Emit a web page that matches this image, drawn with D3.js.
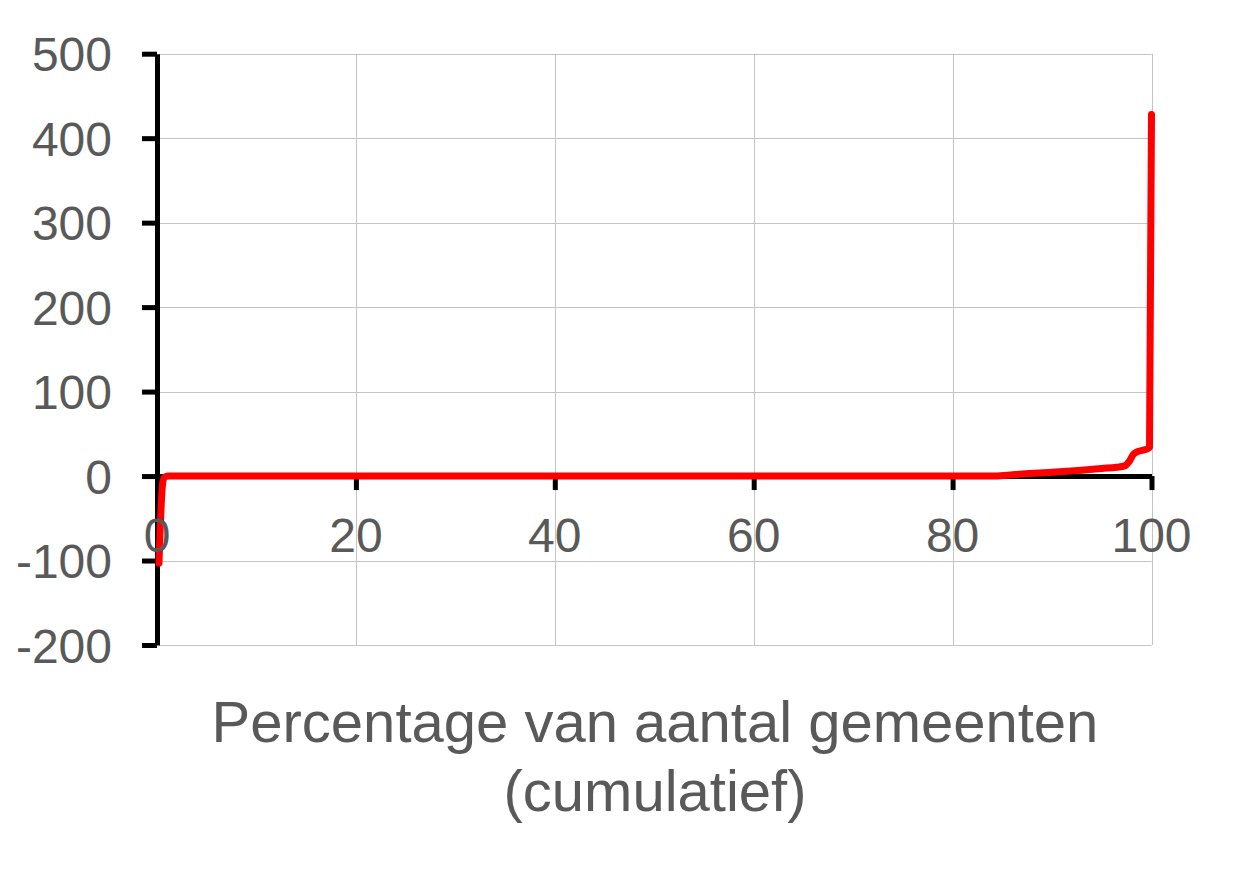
<!DOCTYPE html>
<html>
<head>
<meta charset="utf-8">
<script src="https://cdn.jsdelivr.net/npm/d3@7"></script>
<style>
  html, body { margin: 0; padding: 0; background: #fff; }
  text { font-family: "Liberation Sans", Arial, sans-serif; fill: #595959; }
</style>
</head>
<body>
<svg id="chart" width="1243" height="885"></svg>
<script>
// cumulative percentage of municipalities and the value at that point
const pctValues = [0.2, 0.3, 0.4, 0.5, 0.6, 0.8, 1.2, 84, 85.5, 87, 90, 93, 95, 96.5, 97.3, 97.8, 98.2, 98.6, 99.3, 99.8, 100]
const seriesValues = [-103, -70, -40, -18, -6, -1, 0, 0, 1, 2.5, 4.5, 7, 9, 10.5, 12, 18, 26, 29, 31, 34, 428]
const xTicks = [0, 20, 40, 60, 80, 100]
const yTicks = [-200, -100, 0, 100, 200, 300, 400, 500]
const titleLines = ['Percentage van aantal gemeenten', '(cumulatief)']

const svg = d3.select('#chart')

const x = d3.scaleLinear().domain([0, 100]).range([157, 1151.5])
const y = d3.scaleLinear().domain([-200, 500]).range([645, 53.7])

// gridlines
const grid = svg.append('g').attr('stroke', '#c4c4c4').attr('stroke-width', 1)
grid.selectAll('.hgrid')
  .data(yTicks)
  .enter()
  .append('line')
  .attr('x1', x(0) + 2)
  .attr('x2', x(100))
  .attr('y1', (d) => Math.round(y(d)) + 0.5)
  .attr('y2', (d) => Math.round(y(d)) + 0.5)
grid.selectAll('.vgrid')
  .data(xTicks.filter((d) => d > 0))
  .enter()
  .append('line')
  .attr('x1', (d) => Math.round(x(d)) + 0.5)
  .attr('x2', (d) => Math.round(x(d)) + 0.5)
  .attr('y1', y(500))
  .attr('y2', y(-200))

// axis lines and ticks (labels drawn later, on top of the series)
svg.append('g')
  .attr('transform', 'translate(' + x(0) + ',0)')
  .call(d3.axisLeft(y).tickValues(yTicks).tickSize(15).tickSizeOuter(0).tickFormat(''))
svg.append('g')
  .attr('transform', 'translate(0,' + y(0) + ')')
  .call(d3.axisBottom(x).tickValues(xTicks.filter((d) => d > 0)).tickSize(14).tickSizeOuter(0).tickFormat(''))
svg.selectAll('.domain, .tick line')
  .attr('stroke', '#000')
  .attr('stroke-width', 5)

// the series
const points = pctValues.map((p, i) => [p, seriesValues[i]])
const line = d3.line()
  .x((d) => x(d[0]))
  .y((d) => y(d[1]))
  .curve(d3.curveMonotoneX)
svg.append('path')
  .datum(points)
  .attr('fill', 'none')
  .attr('stroke', '#ff0000')
  .attr('stroke-width', 7)
  .attr('stroke-linecap', 'round')
  .attr('stroke-linejoin', 'round')
  .attr('d', line)

// tick labels
svg.append('g')
  .selectAll('text')
  .data(yTicks)
  .enter()
  .append('text')
  .attr('x', 112)
  .attr('y', (d) => y(d) + 17.5)
  .attr('text-anchor', 'end')
  .style('font-size', '48px')
  .text((d) => d)

svg.append('g')
  .selectAll('text')
  .data(xTicks)
  .enter()
  .append('text')
  .attr('x', (d) => x(d))
  .attr('y', 552)
  .attr('text-anchor', 'middle')
  .style('font-size', '48px')
  .text((d) => d)

// axis title
svg.append('g')
  .selectAll('text')
  .data(titleLines)
  .enter()
  .append('text')
  .attr('x', 655)
  .attr('y', (d, i) => 741.5 + i * 69)
  .attr('text-anchor', 'middle')
  .style('font-size', '58px')
  .text((d) => d)
</script>
</body>
</html>
